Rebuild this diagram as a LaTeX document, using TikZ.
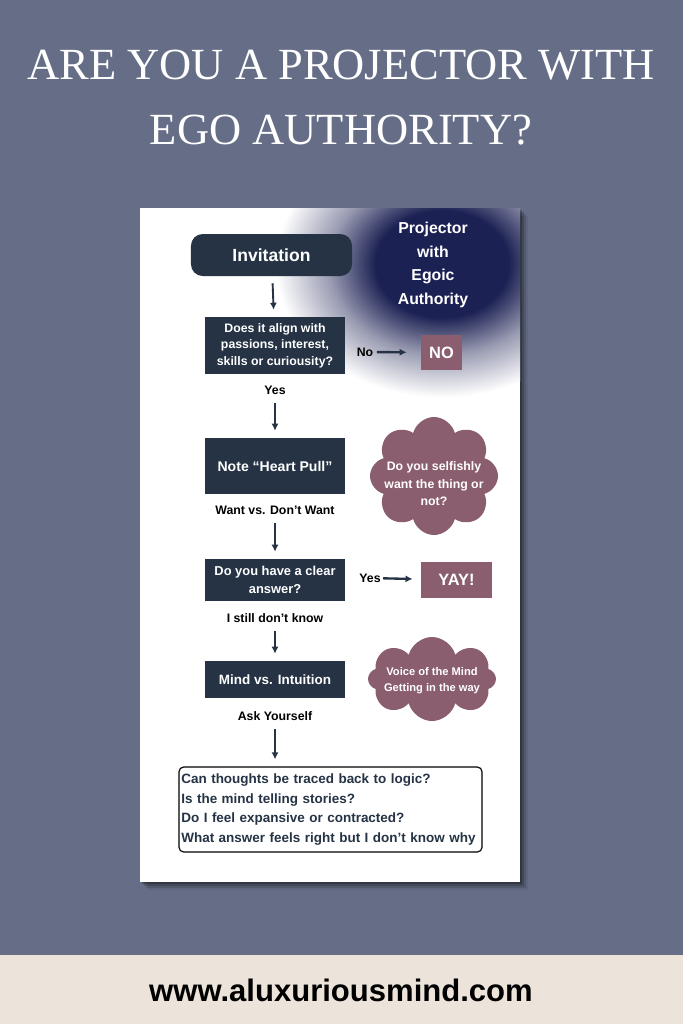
\documentclass[tikz,border=0pt]{standalone}
\usepackage{fontspec}
\setmainfont{Liberation Sans}
\newfontfamily\headfont{Liberation Serif}
\usetikzlibrary{arrows.meta,shapes.symbols}
\definecolor{slate}{HTML}{666E87}
\definecolor{sand}{HTML}{ECE3DA}
\definecolor{ink}{HTML}{253345}
\definecolor{mauve}{HTML}{8A5E6E}
\definecolor{glowblue}{HTML}{1C2153}
\pgfdeclareradialshading{glowshade}{\pgfpoint{0bp}{0bp}}{color(0bp)=(glowblue); color(10bp)=(glowblue); color(17bp)=(glowblue!45!white); color(25bp)=(white); color(50bp)=(white)}

\begin{document}
\begin{tikzpicture}
  [x=0.03cm,y=-0.03cm,
   box/.style={fill=ink,text=white,minimum width=4.2cm,align=center,font=\bfseries\fontsize{10.5}{14}\selectfont},
   lbl/.style={text=black,font=\bfseries\fontsize{10.5}{12}\selectfont,inner sep=1pt},
   tag/.style={fill=mauve,text=white,font=\bfseries\fontsize{14}{16}\selectfont},
   puff/.style={cloud,cloud puffs=8,cloud ignores aspect,fill=mauve,inner sep=0pt},
   pufftext/.style={text=white,align=center},
   arr/.style={-{Latex[length=6pt,width=6pt]},line width=1.6pt,draw=ink,shorten <=6pt,shorten >=6pt}]
  \useasboundingbox (0,0) rectangle (683,1024);
  \fill[slate] (0,0) rectangle (683,955);
  \fill[sand] (0,955) rectangle (683,1024);

  \node[text=white,font=\headfont\fontsize{38}{40}\selectfont] (t1) at (341,65) {ARE YOU A PROJECTOR WITH};
  \node[text=white,font=\headfont\fontsize{38}{40}\selectfont] (t2) at (341,130) {EGO AUTHORITY?};

  \foreach \d/\o in {2/0.25,4/0.18,6/0.12,8/0.07}
    \fill[black,opacity=\o] (140+\d,208+\d) rectangle (520+\d,882+\d);
  \fill[white] (140,208) rectangle (520,882);
  \begin{scope}
    \clip (140,208) rectangle (520,882);
    \shade[shading=glowshade] (442,264) ellipse [x radius=5cm,y radius=4cm];
  \end{scope}

  \node[white,align=center,font=\bfseries\fontsize{13.5}{20}\selectfont] (proj) at (433,265) {Projector\\with\\Egoic\\Authority};

  \node[fill=ink,text=white,rounded corners=10pt,minimum width=4.83cm,minimum height=1.26cm,font=\bfseries\fontsize{15}{17}\selectfont] (inv) at (271.5,255) {Invitation};
  \node[box,minimum height=1.71cm] (align) at (275,345.5) {Does it align with\\passions, interest,\\skills or curiousity?};
  \node[lbl] (no) at (365,352) {No};
  \node[tag,minimum width=1.23cm,minimum height=1.05cm] (nobox) at (441.5,352.5) {NO};
  \node[lbl] (yes) at (275,390) {Yes};
  \node[box,minimum height=1.68cm,font=\bfseries\fontsize{12}{14}\selectfont] (heart) at (275,466) {Note “Heart Pull”};
  \node[lbl] (want) at (275,510) {Want vs. Don’t Want};
  \node[puff,minimum width=3.84cm,minimum height=3.54cm] (cl1) at (434,476) {};
  \node[pufftext,font=\bfseries\fontsize{10.5}{15}\selectfont] (cl1t) at (434,484) {Do you selfishly\\want the thing or\\not?};
  \node[box,minimum height=1.26cm,font=\bfseries\fontsize{11}{15}\selectfont] (clear) at (275,580) {Do you have a clear\\answer?};
  \node[lbl] (yes2) at (370,578) {Yes};
  \node[tag,minimum width=2.13cm,minimum height=1.08cm] (yay) at (456.5,580) {YAY!};
  \node[lbl] (still) at (275,618) {I still don’t know};
  \node[box,minimum height=1.11cm,font=\bfseries\fontsize{11.5}{14}\selectfont] (mind) at (275,679.5) {Mind vs. Intuition};
  \node[puff,minimum width=3.84cm,minimum height=2.52cm] (cl2) at (432,679) {};
  \node[pufftext,font=\bfseries\fontsize{9.5}{13.5}\selectfont] (cl2t) at (432,681) {Voice of the Mind\\Getting in the way};
  \node[lbl] (ask) at (275,716) {Ask Yourself};
  \node[draw=black,line width=1pt,rounded corners=4pt,fill=white,text=ink,minimum width=9.09cm,minimum height=2.55cm,text width=8.95cm,inner sep=1.5pt,align=left,font=\bfseries\fontsize{11.5}{17}\selectfont] (final) at (330.5,809.5)
    {Can thoughts be traced back to logic?\\Is the mind telling stories?\\Do I feel expansive or contracted?\\What answer feels right but I don’t know why};

  \foreach \from/\to in {inv/align,yes/heart,want/clear,still/mind}
    \draw[arr] (\from) -- (\to);
  \draw[arr] (ask) -- (ask |- final.north);
  \draw[arr,line width=2pt,shorten <=2pt,shorten >=12pt] (no) -- (nobox);
  \draw[arr,line width=2pt,shorten <=1pt,shorten >=7pt] (yes2) -- (yay);

  \node[black,font=\bfseries\fontsize{26.5}{30}\selectfont] (url) at (341,990) {www.aluxuriousmind.com};
\end{tikzpicture}
\end{document}
